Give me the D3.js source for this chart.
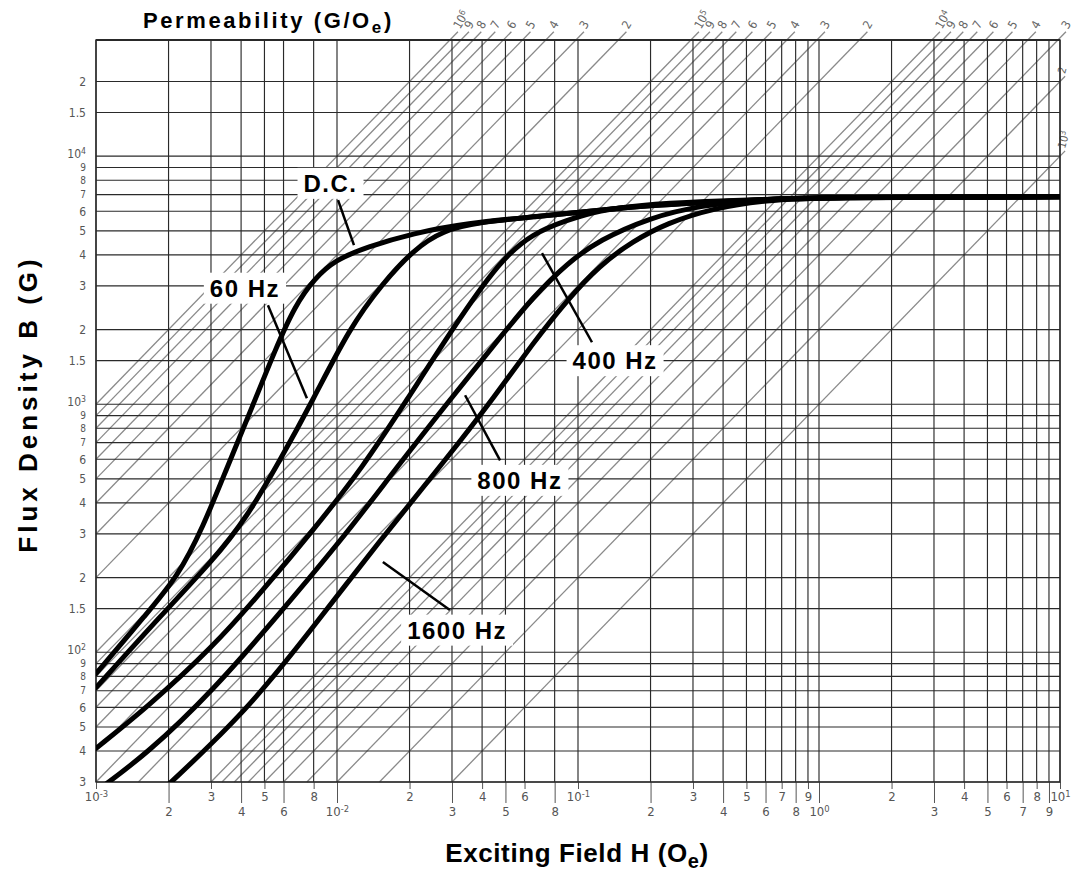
<!DOCTYPE html>
<html>
<head>
<meta charset="utf-8">
<script src="https://d3js.org/d3.v7.min.js"></script>
<style>
  body { margin: 0; background: #fff; }
  text { font-family: "Liberation Sans", Arial, sans-serif; }
  .tick text { font-family: "Liberation Sans Narrow", "DejaVu Sans Condensed", sans-serif; }
</style>
</head>
<body>
<svg id="chart" width="1078" height="871"></svg>
<script>
// magnetization curves: exciting field H (Oe), flux density B (G)
const dcCurve = [[0.001,82],[0.00163,144],[0.00217,200],[0.00278,319],[0.0035,557],[0.00448,991],[0.00553,1651],[0.0067,2506],[0.0081,3222],[0.00981,3810],[0.0133,4300],[0.0207,4890],[0.0346,5370],[0.065,5690],[0.123,6060],[0.2,6340],[0.6,6700],[1,6820],[10,6860]];
const hz60Curve = [[0.001,72],[0.0019,144],[0.00306,235],[0.00423,350],[0.0058,594],[0.00795,1040],[0.0113,2040],[0.0155,3080],[0.0207,4180],[0.0275,5030],[0.0392,5420],[0.065,5690],[0.123,6060],[0.2,6340],[0.6,6700],[1,6820],[10,6860]];
const hz400Curve = [[0.001,41],[0.00163,60],[0.00306,105],[0.00493,178],[0.00795,310],[0.0128,557],[0.0195,1040],[0.03,2000],[0.0475,3810],[0.065,4890],[0.09,5520],[0.123,6060],[0.181,6340],[0.3,6550],[1,6820],[10,6860]];
const hz800Curve = [[0.001,27.5],[0.00163,39],[0.00306,70],[0.0058,144],[0.011,302],[0.0177,557],[0.0294,1040],[0.0475,1860],[0.065,2700],[0.09,3700],[0.123,4600],[0.199,5650],[0.321,6340],[0.6,6700],[1,6820],[10,6860]];
const hz1600Curve = [[0.0019,28],[0.00423,58],[0.00795,126],[0.0151,283],[0.0286,606],[0.0452,1077],[0.065,1762],[0.09,2627],[0.123,3634],[0.169,4543],[0.234,5370],[0.363,6170],[0.608,6650],[1,6820],[10,6860]];

const curveNames = ["D.C.", "60 Hz", "400 Hz", "800 Hz", "1600 Hz"];
// label centre and pointer (start, end) in data units [H, B]
const labelPos = [[0.0094,7780],[0.00415,2940],[0.1425,1500],[0.0574,494],[0.0315,123]];
const pointerFrom = [[0.0101,6650],[0.00517,2506],[0.0709,4064],[0.034,1087],[0.0155,231]];
const pointerTo = [[0.01176,4380],[0.0075,1057],[0.1143,1778],[0.0475,594],[0.0294,148]];

// permeability lines (G/Oe)
const permeabilityValues = [1e6,9e5,8e5,7e5,6e5,5e5,4e5,3e5,2e5,1e5,9e4,8e4,7e4,6e4,5e4,4e4,3e4,2e4,1e4,9e3,8e3,7e3,6e3,5e3,4e3,3e3,2e3,1e3];
const permeabilityLabels = ["10^6","9","8","7","6","5","4","3","2","10^5","9","8","7","6","5","4","3","2","10^4","9","8","7","6","5","4","3","2","10^3"];

// grid + ticks
const xGridValues = [0.001,0.002,0.003,0.004,0.005,0.006,0.008,0.01,0.02,0.03,0.04,0.05,0.06,0.08,0.1,0.2,0.3,0.4,0.5,0.6,0.7,0.8,0.9,1,2,3,4,5,6,7,8,9,10];
const xTopTicks = [0.001,0.003,0.005,0.008,0.02,0.04,0.06,0.1,0.3,0.5,0.7,0.9,2,4,6,8,10];
const xTopLabels = ["10^-3","3","5","8","2","4","6","10^-1","3","5","7","9","2","4","6","8","10^1"];
const xBottomTicks = [0.002,0.004,0.006,0.01,0.03,0.05,0.08,0.2,0.4,0.6,0.8,1,3,5,7,9];
const xBottomLabels = ["2","4","6","10^-2","3","5","8","2","4","6","8","10^0","3","5","7","9"];
const yGridValues = [30,40,50,60,70,80,90,100,150,200,300,400,500,600,700,800,900,1000,1500,2000,3000,4000,5000,6000,7000,8000,9000,10000,15000,20000];
const yLabels = ["3","4","5","6","7","8","9","10^2","1.5","2","3","4","5","6","7","8","9","10^3","1.5","2","3","4","5","6","7","8","9","10^4","1.5","2"];

const svg = d3.select("#chart");
const pLeft = 96, pRight = 1060, pTop = 40, pBottom = 782;
const xScale = d3.scaleLog().domain([0.001, 10]).range([pLeft, pRight]);
const yScale = d3.scaleLog().domain([30, 29400]).range([pBottom, pTop]);

svg.append("rect").attr("width", 1078).attr("height", 871).attr("fill", "#fff");

svg.append("clipPath").attr("id", "plotClip")
  .append("rect").attr("x", pLeft).attr("y", pTop).attr("width", pRight - pLeft).attr("height", pBottom - pTop);

// superscript helper, "10^-3" -> 10 with raised -3
function supText(sel) {
  sel.each(function() {
    const t = d3.select(this);
    const s = t.text();
    if (s.indexOf("^") >= 0) {
      const parts = s.split("^");
      t.text(parts[0]);
      t.append("tspan").attr("dy", "-0.45em").attr("font-size", "0.72em").text(parts[1]);
    }
  });
}

//draw permeability diagonals
const diag = svg.append("g");
permeabilityValues.forEach(function(mu, i) {
  const h0 = Math.max(0.001, 30 / mu);
  const onRight = 29400 / mu > 10;
  const h1 = Math.min(10, 29400 / mu) * (onRight ? 1.05 : 1.08);
  diag.append("line")
    .attr("x1", xScale(h0)).attr("y1", yScale(mu * h0))
    .attr("x2", xScale(h1)).attr("y2", yScale(mu * h1))
    .style("stroke", "#8a8a8a").style("stroke-width", 1.3);
  diag.append("text")
    .attr("transform", "translate(" + (xScale(h1) + (onRight ? 0 : 2)) + "," + (yScale(mu * h1) - 2) + ") rotate(" + (onRight ? -75 : -60) + ")")
    .attr("font-size", onRight ? 11 : 12).attr("fill", "#666")
    .style("font-family", "'Liberation Sans Narrow', 'DejaVu Sans Condensed', sans-serif")
    .text(permeabilityLabels[i])
    .call(supText);
});

//draw vertical grid lines
xGridValues.forEach(function(v) {
  svg.append("line")
    .attr("x1", xScale(v)).attr("x2", xScale(v))
    .attr("y1", pTop).attr("y2", pBottom)
    .style("stroke", "#2a2a2a").style("stroke-width", 1.15);
});

//draw horizontal grid lines
yGridValues.concat([29400]).forEach(function(v) {
  svg.append("line")
    .attr("x1", pLeft).attr("x2", pRight)
    .attr("y1", yScale(v)).attr("y2", yScale(v))
    .style("stroke", "#2a2a2a").style("stroke-width", v === 29400 ? 2 : 1.15);
});

//x axis, two rows of labels
const xAxisTop = d3.axisBottom(xScale).tickValues(xTopTicks).tickSize(7).tickPadding(3)
  .tickFormat((d, i) => xTopLabels[i]);
const xAxisBottom = d3.axisBottom(xScale).tickValues(xBottomTicks).tickSize(21).tickPadding(4)
  .tickFormat((d, i) => xBottomLabels[i]);
[xAxisTop, xAxisBottom].forEach(function(ax) {
  const g = svg.append("g").attr("transform", "translate(0," + pBottom + ")").call(ax);
  g.select(".domain").remove();
  g.selectAll(".tick line").attr("stroke", "#555");
  g.selectAll(".tick text").attr("font-size", 13).attr("fill", "#555").call(supText);
});

//y axis labels (crowded 7-8-9 labels a bit smaller)
const yAxis = d3.axisLeft(yScale).tickValues(yGridValues).tickSize(0).tickPadding(10)
  .tickFormat((d, i) => yLabels[i]);
const gy = svg.append("g").attr("transform", "translate(" + pLeft + ",0)").call(yAxis);
gy.select(".domain").remove();
gy.selectAll(".tick text")
  .attr("fill", "#555")
  .attr("font-size", (d, i) => ["7", "8", "9"].includes(yLabels[i]) ? 10 : 12)
  .attr("y", (d, i) => yLabels[i].indexOf("^") >= 0 ? -3 : 0)
  .call(supText);

//frame
svg.append("rect").attr("x", pLeft).attr("y", pTop).attr("width", pRight - pLeft).attr("height", pBottom - pTop)
  .attr("fill", "none").style("stroke", "#2a2a2a").style("stroke-width", 1.4);

//draw curves
const line = d3.line().x(d => xScale(d[0])).y(d => yScale(d[1])).curve(d3.curveBasis);
const curves = [dcCurve, hz60Curve, hz400Curve, hz800Curve, hz1600Curve];
const curveGroup = svg.append("g").attr("clip-path", "url(#plotClip)");
curves.forEach(function(c) {
  curveGroup.append("path").attr("d", line(c))
    .attr("fill", "none").style("stroke", "#000").style("stroke-width", 5)
    .style("stroke-linejoin", "round").style("stroke-linecap", "round");
});

//labels with white boxes
curveNames.forEach(function(name, i) {
  const g = svg.append("g");
  const t = g.append("text")
    .attr("x", xScale(labelPos[i][0])).attr("y", yScale(labelPos[i][1]))
    .attr("text-anchor", "middle").attr("dy", "0.36em")
    .attr("font-size", 24).attr("font-weight", "bold").style("letter-spacing", "1.5px")
    .text(name);
  const bb = t.node().getBBox();
  g.insert("rect", "text")
    .attr("x", bb.x - 6).attr("y", bb.y - 2).attr("width", bb.width + 12).attr("height", bb.height + 4)
    .attr("fill", "#fff");
  svg.append("line")
    .attr("x1", xScale(pointerFrom[i][0])).attr("y1", yScale(pointerFrom[i][1]))
    .attr("x2", xScale(pointerTo[i][0])).attr("y2", yScale(pointerTo[i][1]))
    .style("stroke", "#000").style("stroke-width", 2.5);
});

//titles
const t1 = svg.append("text").attr("x", 143).attr("y", 28)
  .attr("font-size", 22).attr("font-weight", "bold").style("letter-spacing", "2.6px")
  .text("Permeability (G/O");
t1.append("tspan").attr("dy", 5).attr("font-size", 17).text("e");
t1.append("tspan").attr("dy", -5).text(")");

const t2 = svg.append("text").attr("x", 577).attr("y", 862).attr("text-anchor", "middle")
  .attr("font-size", 26).attr("font-weight", "bold").style("letter-spacing", "0.6px")
  .text("Exciting Field H (O");
t2.append("tspan").attr("dy", 6).attr("font-size", 20).text("e");
t2.append("tspan").attr("dy", -6).text(")");

svg.append("text").attr("transform", "translate(37,404) rotate(-90)").attr("text-anchor", "middle")
  .attr("font-size", 26).attr("font-weight", "bold").style("letter-spacing", "4px")
  .text("Flux Density B (G)");
</script>
</body>
</html>
